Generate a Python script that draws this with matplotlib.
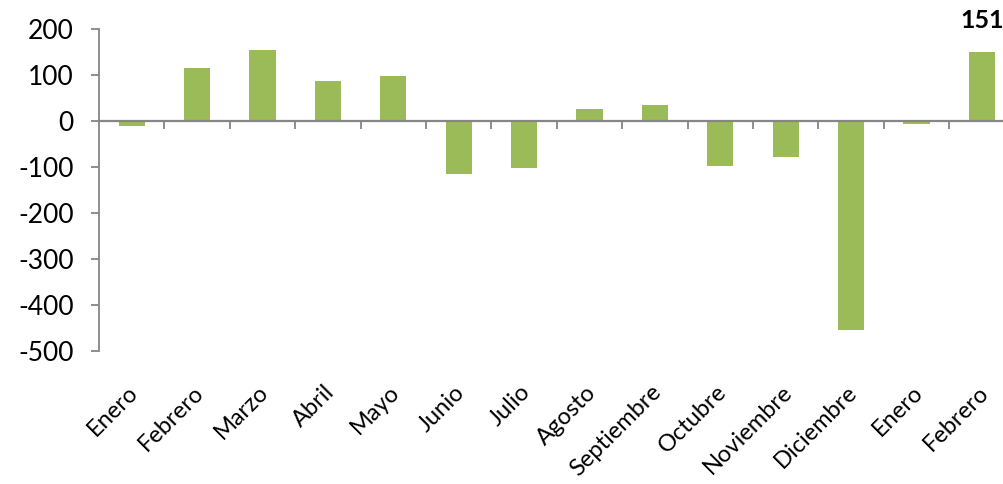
import numpy as np
import matplotlib
matplotlib.use("Agg")
import matplotlib.pyplot as plt
import matplotlib.transforms as mtransforms

categories = ["Enero", "Febrero", "Marzo", "Abril", "Mayo", "Junio", "Julio",
              "Agosto", "Septiembre", "Octubre", "Noviembre", "Diciembre",
              "Enero", "Febrero"]
values = [-11, 116, 155, 87, 97, -116, -102, 26, 35, -98, -78, -455, -6, 151]
yticks = [-500, -400, -300, -200, -100, 0, 100, 200]
highlight_label = "151"

plt.rcParams['font.family'] = ['Lato', 'DejaVu Sans']

W, H = 1004, 484
fig = plt.figure(figsize=(W / 100, H / 100), dpi=100)
cat_w = 65.4
ax = fig.add_axes([99 / W, 1 - 351 / H, len(categories) * cat_w / W, (351 - 29) / H])

x = np.arange(len(categories))
ax.bar(x, values, width=0.4, color='#9BBB59', edgecolor='none', zorder=2)

ax.set_xlim(-0.5, len(categories) - 0.5)
ax.set_ylim(-500, 200)

gray = '#868686'
for s in ['top', 'right']:
    ax.spines[s].set_visible(False)
ax.spines['bottom'].set_position(('data', 0))
ax.spines['bottom'].set_color(gray)
ax.spines['bottom'].set_linewidth(1.6)
ax.spines['bottom'].set_zorder(3)
ax.spines['left'].set_color(gray)
ax.spines['left'].set_linewidth(1.3)

ax.set_xticks(np.arange(0.5, len(categories) - 1, 1.0))
ax.set_xticklabels([])
ax.tick_params(axis='x', direction='out', length=6, width=1.3, color=gray)

ax.set_yticks(yticks)
ax.set_yticklabels([str(v) for v in yticks])
ax.tick_params(axis='y', direction='out', length=6, width=1.3, color=gray,
               labelsize=19, pad=12)

trans = mtransforms.blended_transform_factory(ax.transData, ax.transAxes)
trans = mtransforms.offset_copy(trans, fig=fig, x=3, y=-38, units='dots')
for i, c in enumerate(categories):
    ax.text(i, 0, c, transform=trans, rotation=45, rotation_mode='anchor',
            ha='right', va='center', fontsize=17)

ax.annotate(highlight_label, xy=(x[-1], values[-1]), xytext=(0, 14),
            textcoords='offset points', ha='center', va='bottom',
            fontsize=18, fontweight='bold', annotation_clip=False)

fig.savefig("out.png", dpi=100)
